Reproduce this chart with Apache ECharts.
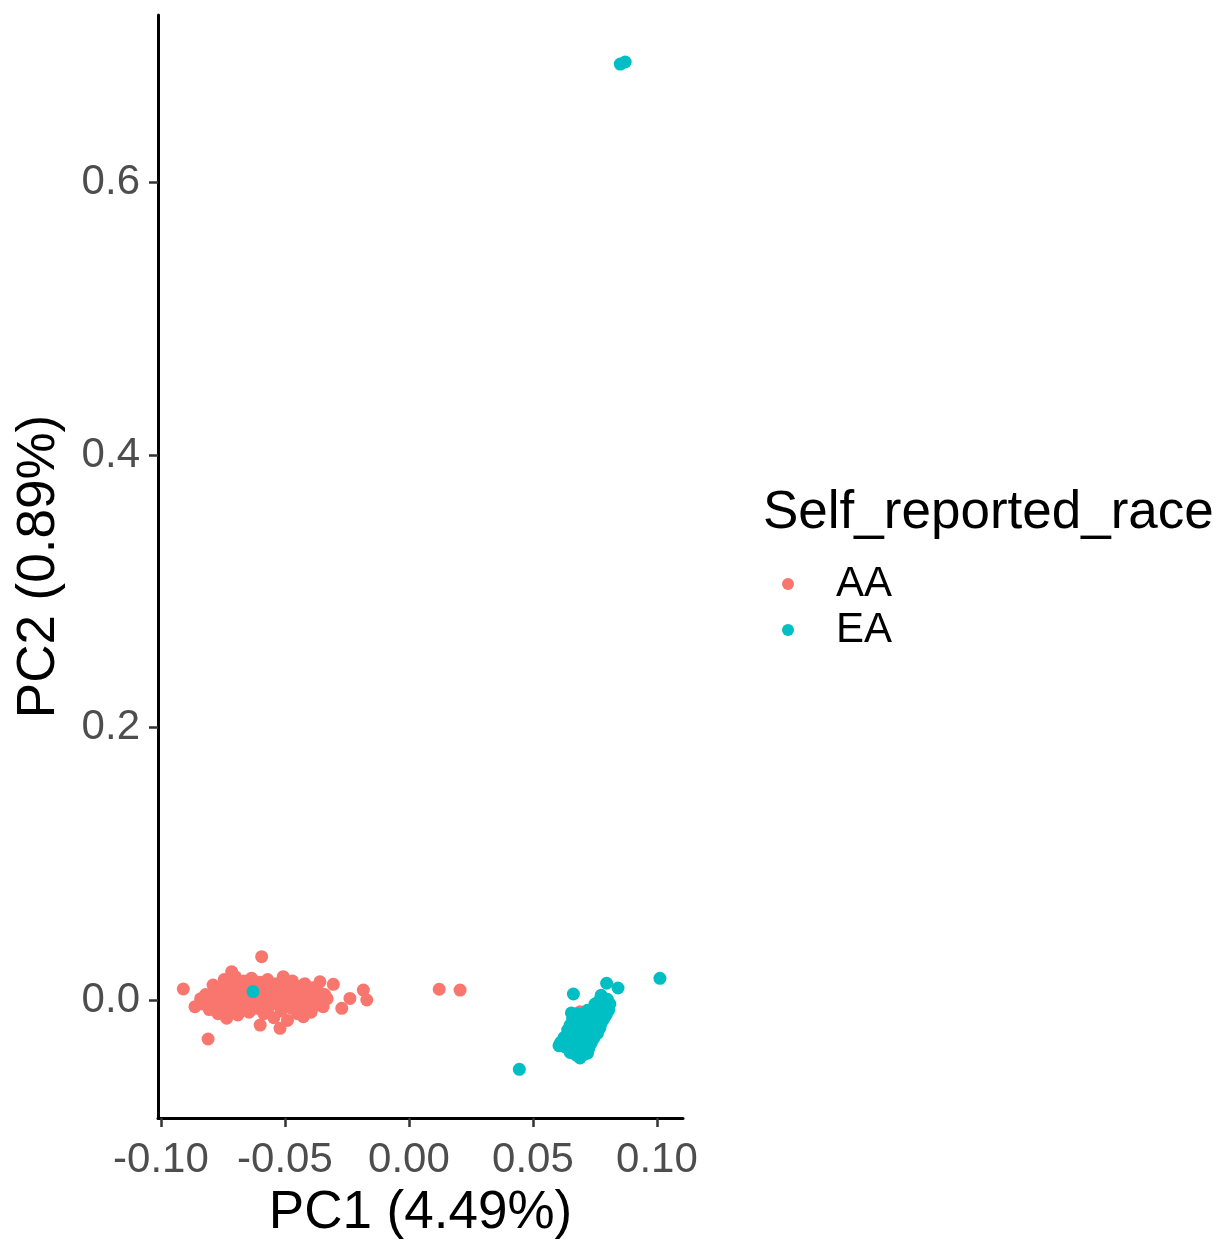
<!DOCTYPE html>
<html>
<head>
<meta charset="utf-8">
<script src="https://cdn.jsdelivr.net/npm/echarts@6/dist/echarts.min.js"></script>
<style>
html,body{margin:0;padding:0;background:#fff;}
#chart{width:1232px;height:1245px;}
</style>
</head>
<body>
<div id="chart"></div>
<script>
// ---- data ----
const seriesNames = ["AA", "EA"];
const legendTitle = "Self_reported_race";
const xAxisTitle = "PC1 (4.49%)";
const yAxisTitle = "PC2 (0.89%)";
const xTicks = [-0.10, -0.05, 0.00, 0.05, 0.10];
const yTicks = [0.0, 0.2, 0.4, 0.6];

const aaPoints = [
  [-0.0910, 0.0081], [-0.0863, -0.0049], [-0.0810, -0.0286], [-0.0594, 0.0318], [-0.0715, 0.0208],
  [-0.0184, 0.0073], [-0.0170, 0.0000], [-0.0238, 0.0012], [-0.0271, -0.0061], [-0.0305, 0.0115],
  [-0.0359, 0.0134], [-0.0520, -0.0208], [-0.0600, -0.0184], [0.0122, 0.0079], [0.0206, 0.0073],
  [0.0690, -0.0086],
  [-0.0840, 0.0010], [-0.0830, -0.0030], [-0.0820, 0.0040], [-0.0805, -0.0070], [-0.0800, 0.0000],
  [-0.0790, 0.0110], [-0.0785, -0.0040], [-0.0775, 0.0060], [-0.0770, -0.0100], [-0.0765, 0.0020],
  [-0.0755, -0.0060], [-0.0750, 0.0090], [-0.0745, 0.0150], [-0.0740, -0.0020], [-0.0735, -0.0134],
  [-0.0730, 0.0040], [-0.0725, -0.0080], [-0.0720, 0.0120], [-0.0715, 0.0000], [-0.0710, 0.0070],
  [-0.0705, -0.0050], [-0.0700, 0.0170], [-0.0695, 0.0030], [-0.0690, -0.0110], [-0.0685, 0.0100],
  [-0.0680, -0.0020], [-0.0675, 0.0050], [-0.0670, -0.0070], [-0.0665, 0.0140], [-0.0660, 0.0010],
  [-0.0655, -0.0040], [-0.0650, 0.0080], [-0.0645, -0.0090], [-0.0640, 0.0030], [-0.0635, 0.0160],
  [-0.0630, -0.0010], [-0.0620, 0.0110], [-0.0615, -0.0060], [-0.0610, 0.0040], [-0.0600, 0.0130],
  [-0.0595, -0.0020], [-0.0590, 0.0070], [-0.0585, -0.0100], [-0.0575, 0.0020], [-0.0570, 0.0150],
  [-0.0565, -0.0050], [-0.0560, 0.0090], [-0.0550, 0.0000], [-0.0545, -0.0130], [-0.0540, 0.0060],
  [-0.0535, 0.0120], [-0.0530, -0.0030], [-0.0525, 0.0030], [-0.0515, -0.0080], [-0.0507, 0.0171],
  [-0.0505, 0.0080], [-0.0500, -0.0010], [-0.0495, 0.0110], [-0.0490, -0.0150], [-0.0485, 0.0040],
  [-0.0475, -0.0060], [-0.0470, 0.0140], [-0.0465, 0.0010], [-0.0455, 0.0070], [-0.0450, -0.0100],
  [-0.0445, 0.0100], [-0.0440, -0.0030], [-0.0430, 0.0030], [-0.0426, -0.0122], [-0.0420, 0.0120],
  [-0.0415, -0.0060], [-0.0410, 0.0060], [-0.0400, 0.0000], [-0.0395, -0.0090], [-0.0390, 0.0090],
  [-0.0380, 0.0030], [-0.0375, -0.0040], [-0.0365, 0.0060], [-0.0355, -0.0010], [-0.0346, -0.0049],
  [-0.0340, 0.0040], [-0.0330, 0.0010]
];

const eaPoints = [
  [0.0445, -0.0509], [0.1012, 0.0159], [0.0663, 0.0044], [0.0797, 0.0123], [0.0843, 0.0088],
  [-0.0629, 0.0062], [0.0852, 0.6870], [0.0872, 0.6885],
  [0.0775, 0.0035], [0.0800, 0.0005], [0.0810, -0.0030], [0.0765, -0.0010], [0.0785, -0.0045],
  [0.0750, -0.0030], [0.0805, -0.0075], [0.0765, -0.0065],
  [0.0795, -0.0110], [0.0770, -0.0095], [0.0745, -0.0085], [0.0720, -0.0075],
  [0.0785, -0.0140], [0.0755, -0.0125], [0.0730, -0.0115], [0.0705, -0.0120],
  [0.0680, -0.0100], [0.0655, -0.0095], [0.0775, -0.0170], [0.0750, -0.0160],
  [0.0720, -0.0160], [0.0690, -0.0150], [0.0660, -0.0140], [0.0770, -0.0205],
  [0.0740, -0.0195], [0.0710, -0.0200], [0.0680, -0.0185], [0.0650, -0.0185],
  [0.0760, -0.0245], [0.0730, -0.0235], [0.0700, -0.0240],
  [0.0670, -0.0230], [0.0640, -0.0220],
  [0.0745, -0.0280], [0.0715, -0.0275], [0.0685, -0.0270], [0.0655, -0.0265],
  [0.0625, -0.0275], [0.0735, -0.0315], [0.0705, -0.0325], [0.0675, -0.0310],
  [0.0645, -0.0300], [0.0612, -0.0310], [0.0725, -0.0355], [0.0695, -0.0365],
  [0.0660, -0.0345], [0.0630, -0.0345], [0.0605, -0.0335], [0.0705, -0.0400],
  [0.0675, -0.0405], [0.0650, -0.0385], [0.0720, -0.0390], [0.0690, -0.0425]
];

const colors = ["#F8766D", "#00BFC4"];

// ---- chart ----
const chart = echarts.init(document.getElementById('chart'), null, {renderer: 'canvas'});
const fontFamily = '"Liberation Sans", Arial, sans-serif';

const option = {
  animation: false,
  backgroundColor: '#ffffff',
  title: {
    text: legendTitle,
    left: 758,
    top: 482,
    textStyle: {fontFamily, fontSize: 53, fontWeight: 'normal', color: '#000'}
  },
  legend: {
    data: seriesNames,
    orient: 'vertical',
    left: 777,
    top: 556,
    itemWidth: 20,
    itemHeight: 12,
    itemGap: 0,
    icon: 'circle',
    textStyle: {fontFamily, fontSize: 42, color: '#000', lineHeight: 46, padding: [0, 0, 0, 33]}
  },
  grid: {left: 158, right: 549, top: 15, bottom: 127, containLabel: false},
  xAxis: {
    type: 'value',
    min: -0.1012,
    max: 0.1105,
    name: xAxisTitle,
    nameLocation: 'middle',
    nameGap: 69,
    nameTextStyle: {fontFamily, fontSize: 53, color: '#000'},
    splitLine: {show: false},
    axisLine: {show: true, onZero: false, lineStyle: {color: '#000', width: 3}},
    axisTick: {show: true, length: 9, lineStyle: {color: '#333', width: 2.5}, customValues: xTicks},
    axisLabel: {
      customValues: xTicks,
      fontFamily, fontSize: 42, color: '#4D4D4D', margin: 21,
      formatter: v => v.toFixed(2)
    }
  },
  yAxis: {
    type: 'value',
    min: -0.0866,
    max: 0.723,
    name: yAxisTitle,
    nameLocation: 'middle',
    nameGap: 92,
    nameTextStyle: {fontFamily, fontSize: 53, color: '#000'},
    splitLine: {show: false},
    axisLine: {show: true, onZero: false, lineStyle: {color: '#000', width: 3}},
    axisTick: {show: true, length: 9, lineStyle: {color: '#333', width: 2.5}, customValues: yTicks},
    axisLabel: {
      customValues: yTicks,
      fontFamily, fontSize: 42, color: '#4D4D4D', margin: 18,
      formatter: v => v.toFixed(1)
    }
  },
  series: [
    {name: seriesNames[0], type: 'scatter', data: aaPoints, symbolSize: 13,
     itemStyle: {color: colors[0], opacity: 1}},
    {name: seriesNames[1], type: 'scatter', data: eaPoints, symbolSize: 13,
     itemStyle: {color: colors[1], opacity: 1}}
  ]
};
chart.setOption(option);
</script>
</body>
</html>
